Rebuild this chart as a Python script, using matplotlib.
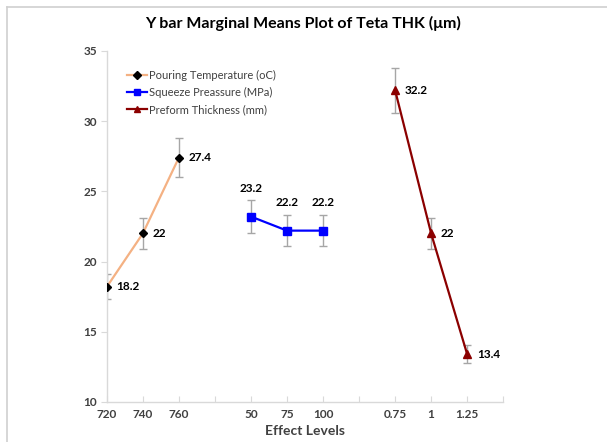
import matplotlib
matplotlib.use('Agg')
import matplotlib.pyplot as plt
from matplotlib.lines import Line2D
import numpy as np

plt.rcParams['font.family'] = ['Lato', 'DejaVu Sans']

# Category slots along the x axis (blank slots split the three factors)
tickLabels = ['720', '740', '760', '', '50', '75', '100', '', '0.75', '1', '1.25']

pouringPos = [0, 1, 2]
pouringMean = [18.2, 22, 27.4]
pouringErr = [0.9, 1.1, 1.4]

squeezePos = [4, 5, 6]
squeezeMean = [23.2, 22.2, 22.2]
squeezeErr = [1.15, 1.1, 1.1]

preformPos = [8, 9, 10]
preformMean = [32.2, 22, 13.4]
preformErr = [1.6, 1.1, 0.65]

seriesNames = ['Pouring Temperature (oC)', 'Squeeze Preassure (MPa)', 'Preform Thickness (mm)']

fig = plt.figure(figsize=(6.07, 4.42), dpi=100)
ax = fig.add_axes([0.176, 0.0905, 0.653, 0.7945])

axisGray = '#d9d9d9'
textGray = '#404040'
errGray = '#a6a6a6'

def drawSeries(pos, mean, err, lineColor, marker, markerColor, msize):
    ax.errorbar(pos, mean, yerr=err, fmt='none', ecolor=errGray, elinewidth=1.0,
                capsize=3, capthick=1.0, zorder=2)
    ax.plot(pos, mean, color=lineColor, lw=1.6, marker=marker, ms=msize,
            mfc=markerColor, mec=markerColor, zorder=3)

drawSeries(pouringPos, pouringMean, pouringErr, '#f4b183', 'D', 'black', 4.5)
drawSeries(squeezePos, squeezeMean, squeezeErr, '#0000ff', 's', '#0000ff', 5.5)
drawSeries(preformPos, preformMean, preformErr, '#8b0000', '^', '#8b0000', 6)

# value labels
for p, v in zip(pouringPos, pouringMean):
    ax.annotate(f'{v:g}', (p, v), xytext=(7, 0), textcoords='offset points',
                ha='left', va='center', fontsize=8.5, fontweight='bold', color='black')
for p, v in zip(squeezePos, squeezeMean):
    ax.annotate(f'{v:g}', (p, v), xytext=(0, 20), textcoords='offset points',
                ha='center', va='center', fontsize=8.5, fontweight='bold', color='black')
for p, v in zip(preformPos, preformMean):
    ax.annotate(f'{v:g}', (p, v), xytext=(7, 0), textcoords='offset points',
                ha='left', va='center', fontsize=8.5, fontweight='bold', color='black')

ax.set_xlim(0, 11)
ax.set_ylim(10, 35)
ax.set_xticks(np.arange(12))
ax.set_xticklabels(tickLabels + [''])
ax.set_yticks(np.arange(10, 36, 5))

for s in ['top', 'right']:
    ax.spines[s].set_visible(False)
for s in ['left', 'bottom']:
    ax.spines[s].set_color(axisGray)
    ax.spines[s].set_linewidth(1.0)

ax.tick_params(axis='x', direction='in', length=4, color=axisGray, pad=5,
               labelsize=8.5, labelcolor=textGray)
ax.tick_params(axis='y', direction='out', length=4, color=axisGray, pad=3,
               labelsize=8.5, labelcolor=textGray)
for lbl in ax.get_xticklabels() + ax.get_yticklabels():
    lbl.set_fontweight('bold')

ax.set_xlabel('Effect Levels', fontsize=10, fontweight='bold', color=textGray, labelpad=4)
fig.text(0.5, 0.948, 'Y bar Marginal Means Plot of Teta THK (μm)', ha='center', va='center',
         fontsize=11.5, fontweight='bold', color='black')

handles = [
    Line2D([], [], color='#f4b183', lw=1.6, marker='D', ms=4, mfc='black', mec='black'),
    Line2D([], [], color='#0000ff', lw=1.6, marker='s', ms=5, mfc='#0000ff', mec='#0000ff'),
    Line2D([], [], color='#8b0000', lw=1.6, marker='^', ms=5, mfc='#8b0000', mec='#8b0000'),
]
leg = ax.legend(handles, seriesNames, loc='upper left', bbox_to_anchor=(0.025, 0.975),
                frameon=False, fontsize=8, handlelength=1.8, handletextpad=0.2,
                labelspacing=0.55, labelcolor=textGray)

# outer chart border (top and left edges)
fig.add_artist(Line2D([7 / 607, 1], [1 - 7 / 442, 1 - 7 / 442], color='#d0d0d0', lw=1.2,
                      transform=fig.transFigure))
fig.add_artist(Line2D([7 / 607, 7 / 607], [0, 1 - 7 / 442], color='#d0d0d0', lw=1.2,
                      transform=fig.transFigure))

fig.savefig('out.png', dpi=100)
